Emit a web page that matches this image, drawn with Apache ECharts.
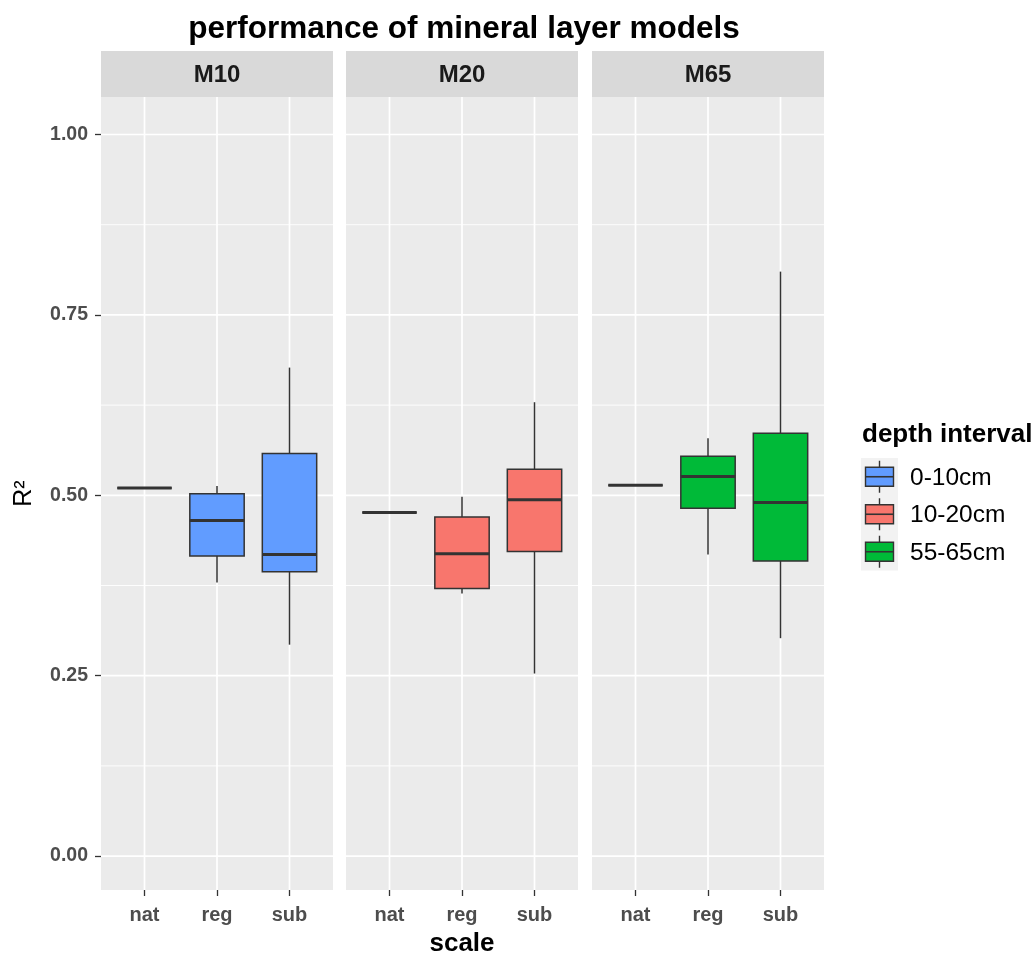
<!DOCTYPE html>
<html>
<head>
<meta charset="utf-8">
<script src="https://cdn.jsdelivr.net/npm/echarts@6/dist/echarts.min.js"></script>
<style>
html,body{margin:0;padding:0;background:#fff;}
#chart{width:1036px;height:955px;}
</style>
</head>
<body>
<div id="chart"></div>
<script>
// ---------- data ----------
const chartTitle = 'performance of mineral layer models';
const facets = ['M10', 'M20', 'M65'];
const scales = ['nat', 'reg', 'sub'];
const depthLabels = ['0-10cm', '10-20cm', '55-65cm'];
const depthColors = ['#619CFF', '#F8766D', '#00BA38'];
// box stats per scale: [min, q1, median, q3, max]
const m10Stats = [
  [0.510, 0.510, 0.510, 0.510, 0.510],
  [0.379, 0.416, 0.465, 0.502, 0.513],
  [0.293, 0.394, 0.418, 0.558, 0.677]
];
const m20Stats = [
  [0.476, 0.476, 0.476, 0.476, 0.476],
  [0.364, 0.371, 0.419, 0.470, 0.498],
  [0.253, 0.422, 0.494, 0.536, 0.629]
];
const m65Stats = [
  [0.514, 0.514, 0.514, 0.514, 0.514],
  [0.418, 0.482, 0.526, 0.554, 0.579],
  [0.302, 0.409, 0.490, 0.586, 0.810]
];
const yMajorTicks = [0, 0.25, 0.5, 0.75, 1];
const yMinorTicks = [0.125, 0.375, 0.625, 0.875];
const xTickPositions = [1, 2, 3];

// ---------- layout ----------
const FONT = '"Liberation Sans", Arial, sans-serif';
const facetStats = [m10Stats, m20Stats, m65Stats];
const panelLefts = [101, 346, 592];
const panelWidth = 232;
const panelTop = 97;
const panelHeight = 793;
const stripTop = 51;
const yMin = -0.047, yMax = 1.052;

const grids = [], xAxes = [], yAxes = [], series = [], graphics = [];

facets.forEach((f, i) => {
  grids.push({left: panelLefts[i], top: panelTop, width: panelWidth, height: panelHeight,
    show: true, backgroundColor: '#EBEBEB', borderWidth: 0,
    containLabel: false, outerBoundsMode: 'none'});
  xAxes.push({
    type: 'value', gridIndex: i, min: 0.4, max: 3.6,
    axisLine: {show: false, onZero: false},
    splitLine: {show: false},
    axisTick: {show: true, customValues: xTickPositions, length: 6, lineStyle: {color: '#333333', width: 1.3}},
    axisLabel: {show: true, customValues: xTickPositions, margin: 15,
      formatter: v => scales[Math.round(v) - 1] || '',
      color: '#4D4D4D', fontWeight: 'bold', fontSize: 20, fontFamily: FONT},
    name: i === 1 ? 'scale' : '',
    nameLocation: 'middle', nameGap: 41,
    nameTextStyle: {color: '#000', fontWeight: 'bold', fontSize: 26, fontFamily: FONT, verticalAlign: 'top'}
  });
  yAxes.push({
    type: 'value', gridIndex: i, min: yMin, max: yMax,
    axisLine: {show: false, onZero: false},
    splitLine: {show: false},
    axisTick: {show: i === 0, customValues: yMajorTicks, length: 6, lineStyle: {color: '#333333', width: 1.3}},
    axisLabel: {show: i === 0, customValues: yMajorTicks, margin: 13,
      formatter: v => Number(v).toFixed(2),
      color: '#4D4D4D', fontWeight: 'bold', fontSize: 19.5, fontFamily: FONT},
    name: i === 0 ? 'R²' : '',
    nameLocation: 'middle', nameGap: 64, nameRotate: 90,
    nameTextStyle: {color: '#000', fontSize: 25, fontFamily: FONT}
  });

  // grid lines via the axes' scales
  const lineData = [];
  yMinorTicks.forEach(v => lineData.push([1, v, 0]));
  yMajorTicks.forEach(v => lineData.push([1, v, 1]));
  xTickPositions.forEach(v => lineData.push([v, 0, 2]));
  series.push({
    type: 'custom', xAxisIndex: i, yAxisIndex: i, z: 1, silent: true, clip: false,
    data: lineData,
    encode: {x: 0, y: 1},
    renderItem: (params, api) => {
      const cs = params.coordSys;
      const kind = api.value(2);
      if (kind === 2) {
        const x = api.coord([api.value(0), 0])[0];
        return {type: 'line', shape: {x1: x, y1: cs.y, x2: x, y2: cs.y + cs.height},
          style: {stroke: '#FFFFFF', lineWidth: 1.7}};
      }
      const y = api.coord([1, api.value(1)])[1];
      return {type: 'line', shape: {x1: cs.x, y1: y, x2: cs.x + cs.width, y2: y},
        style: {stroke: '#FFFFFF', lineWidth: kind === 1 ? 1.7 : 0.9}};
    }
  });

  // boxes
  const color = depthColors[i];
  const boxData = facetStats[i].map((s, k) => [xTickPositions[k]].concat(s));
  series.push({
    type: 'custom', name: depthLabels[i], xAxisIndex: i, yAxisIndex: i, z: 3,
    data: boxData,
    encode: {x: 0, y: [1, 2, 3, 4, 5]},
    renderItem: (params, api) => {
      const x = api.value(0);
      const c = v => api.coord([x, v]);
      const cx = c(api.value(3))[0];
      const yLo = c(api.value(1))[1], yQ1 = c(api.value(2))[1], yMed = c(api.value(3))[1],
            yQ3 = c(api.value(4))[1], yHi = c(api.value(5))[1];
      const hw = api.size([0.75, 0])[0] / 2;
      const stroke = '#333333';
      return {type: 'group', children: [
        {type: 'line', shape: {x1: cx, y1: yHi, x2: cx, y2: yQ3}, style: {stroke, lineWidth: 1.5}},
        {type: 'line', shape: {x1: cx, y1: yQ1, x2: cx, y2: yLo}, style: {stroke, lineWidth: 1.5}},
        {type: 'rect', shape: {x: cx - hw, y: yQ3, width: 2 * hw, height: yQ1 - yQ3},
          style: {fill: color, stroke, lineWidth: 1.5}},
        {type: 'line', shape: {x1: cx - hw, y1: yMed, x2: cx + hw, y2: yMed}, style: {stroke, lineWidth: 3}}
      ]};
    }
  });

  // facet strip
  graphics.push({type: 'rect', left: panelLefts[i], top: stripTop,
    shape: {width: panelWidth, height: panelTop - stripTop}, style: {fill: '#D9D9D9'}, z: 0});
  graphics.push({type: 'text', x: panelLefts[i] + panelWidth / 2, y: (stripTop + panelTop) / 2 + 1,
    style: {text: f, fill: '#1A1A1A', font: 'bold 24px ' + FONT, align: 'center', verticalAlign: 'middle'}, z: 1});
});

// legend
const legX = 861, legTop = 458, keyH = 37.5;
graphics.push({type: 'text', x: legX + 1, y: 435,
  style: {text: 'depth interval', fill: '#000', font: 'bold 26px ' + FONT, align: 'left', verticalAlign: 'middle'}});
graphics.push({type: 'rect', shape: {x: legX, y: legTop, width: 37, height: keyH * 3}, style: {fill: '#F2F2F2'}});
depthLabels.forEach((lab, k) => {
  const cy = legTop + keyH * k + keyH / 2;
  const cx = legX + 18.5;
  graphics.push({type: 'line', shape: {x1: cx, y1: cy - 16, x2: cx, y2: cy + 16}, style: {stroke: '#333', lineWidth: 1.4}});
  graphics.push({type: 'rect', shape: {x: cx - 14, y: cy - 9.5, width: 28, height: 19},
    style: {fill: depthColors[k], stroke: '#333', lineWidth: 1.4}});
  graphics.push({type: 'line', shape: {x1: cx - 14, y1: cy, x2: cx + 14, y2: cy}, style: {stroke: '#333', lineWidth: 1.6}});
  graphics.push({type: 'text', x: legX + 49, y: cy + 1,
    style: {text: lab, fill: '#000', font: '24.5px ' + FONT, align: 'left', verticalAlign: 'middle'}});
});

const chart = echarts.init(document.getElementById('chart'), null, {renderer: 'canvas'});
chart.setOption({
  backgroundColor: '#FFFFFF',
  animation: false,
  title: {text: chartTitle, left: 459, top: 8, textAlign: 'center',
    textStyle: {color: '#000', fontWeight: 'bold', fontSize: 31.5, fontFamily: FONT}},
  grid: grids,
  xAxis: xAxes,
  yAxis: yAxes,
  series: series,
  graphic: graphics
});
</script>
</body>
</html>
